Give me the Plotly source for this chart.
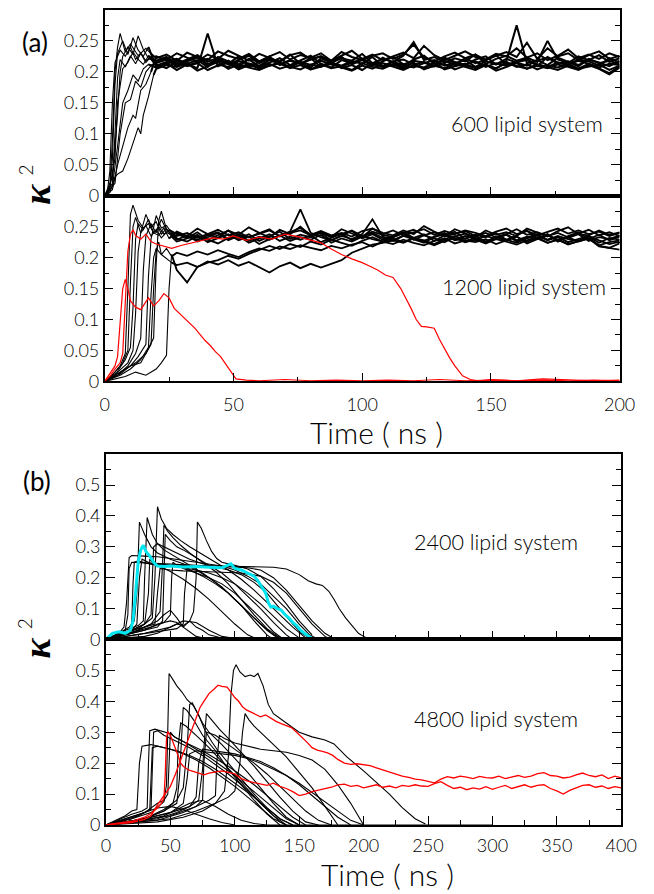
import plotly.graph_objects as go

W, H = 654, 894

# ---------------- Panel (a) upper : 600 lipid system  (kappa^2 x 1000) ----------------
A1_RISE_T = [
    [0, 1, 2, 3, 4, 6, 8, 10, 12, 14, 16, 18],
    [0, 2, 3, 4, 5, 7, 9, 11, 13, 15, 17],
    [0, 2, 3, 4, 5, 6, 8, 10, 13, 16, 18],
    [0, 3, 4, 5, 6, 8, 10, 12, 14, 16, 18],
    [0, 3, 5, 6, 7, 9, 11, 13, 15, 17],
    [0, 2, 4, 5, 7, 9, 11, 13, 15, 17],
    [0, 2, 4, 5, 7, 9, 11, 13, 14, 15, 17, 19],
    [0, 3, 5, 7, 9, 11, 12, 14, 16, 18],
    [0, 4, 6, 8, 10, 12, 14, 16, 18],
    [0, 3, 5, 7, 9, 11, 13, 15, 17],
]
A1_RISE_V = [
    [0, 5, 40, 150, 215, 235, 225, 240, 220, 230, 215, 225],
    [0, 10, 60, 180, 230, 250, 228, 255, 235, 225, 240],
    [0, 15, 90, 200, 240, 262, 232, 245, 226, 238, 229],
    [0, 20, 100, 190, 220, 208, 226, 213, 230, 218, 224],
    [0, 30, 130, 200, 225, 240, 228, 258, 236, 222],
    [0, 15, 60, 150, 205, 215, 232, 220, 212, 226],
    [0, 5, 30, 35, 40, 60, 85, 110, 100, 130, 160, 195],
    [0, 10, 50, 80, 110, 130, 125, 170, 180, 200],
    [0, 20, 100, 150, 155, 185, 175, 200, 210],
    [0, 15, 80, 150, 170, 195, 185, 205, 212],
]
A1_PLAT_T = list(range(20, 201, 4))
A1_PLAT_V = [
    [215,222,210,218,226,212,220,214,209,221,216,225,211,218,213,222,208,217,224,212,219,210,223,215,209,220,226,213,218,211,222,214,219,227,212,216,221,209,224,215,212,220,217,210,222,215],
    [208,214,203,212,206,262,209,215,204,211,207,213,205,210,216,204,212,206,209,203,214,208,205,212,207,215,204,210,206,213,208,203,211,206,214,209,205,212,207,203,210,205,213,206,198,209],
    [222,228,218,231,224,219,233,226,221,229,217,225,232,220,227,223,230,218,226,234,221,228,219,225,231,222,242,227,219,226,233,224,220,229,225,238,223,230,219,226,236,222,228,221,230,224],
    [212,206,217,209,214,203,211,218,207,213,205,210,215,208,204,212,209,216,206,211,203,214,208,212,205,210,207,215,204,209,213,206,211,205,216,208,212,204,210,207,213,205,209,212,203,210],
    [218,224,213,220,227,216,223,212,219,226,214,221,217,228,213,220,225,215,222,218,229,214,221,216,226,248,219,224,215,222,217,228,213,221,226,218,223,216,250,220,214,225,219,227,216,222],
    [210,216,221,213,219,208,224,217,212,220,209,215,222,211,218,226,213,207,219,214,221,210,217,224,212,218,215,209,223,216,211,220,225,212,217,275,214,219,211,223,216,209,221,214,218,212],
    [205,211,208,214,202,209,216,205,212,207,203,210,214,206,211,204,209,213,207,202,210,205,214,208,203,211,206,209,213,204,210,207,212,202,208,214,205,210,206,212,208,203,211,205,196,207],
    [225,219,230,223,217,228,221,234,226,218,229,223,216,227,231,220,225,218,232,224,219,226,230,221,228,244,223,217,225,231,222,228,219,226,232,224,247,221,238,225,230,219,227,233,221,226],
    [214,220,209,217,223,211,218,213,225,208,216,221,212,219,214,207,222,215,210,218,213,224,209,217,220,212,216,210,222,214,219,208,217,212,221,215,210,218,223,213,217,211,220,215,209,218],
    [207,213,218,210,215,221,212,208,217,214,210,219,213,207,216,211,218,212,209,215,220,213,208,216,211,207,214,219,210,215,212,217,208,214,210,216,219,212,208,215,211,218,213,207,213,211],
]

# ---------------- Panel (a) lower : 1200 lipid system ----------------
A2_RISE_T = [
    [0, 3, 6, 8, 9, 10, 11, 13, 15, 17, 19, 21, 23, 25],
    [0, 4, 7, 9, 10, 11, 12, 14, 16, 18, 20, 22, 24, 26],
    [0, 4, 8, 10, 11, 12, 13, 15, 17, 19, 21, 23, 25],
    [0, 5, 9, 11, 12, 13, 14, 16, 18, 20, 22, 24, 26],
    [0, 5, 9, 12, 14, 15, 16, 18, 20, 22, 24, 26],
    [0, 6, 10, 13, 16, 17, 18, 20, 22, 24, 26],
    [0, 6, 10, 14, 17, 18, 19, 20, 22, 24, 26],
    [0, 6, 10, 14, 18, 19, 20, 21, 22, 24, 26],
    [0, 8, 12, 16, 19, 20, 21, 22, 24, 26],
    [0, 8, 12, 16, 20, 22, 24, 25, 26],
]
A2_RISE_V = [
    [0, 10, 25, 45, 150, 270, 285, 260, 248, 255, 240, 250, 238, 245],
    [0, 15, 30, 50, 160, 250, 265, 240, 252, 235, 245, 232, 241, 236],
    [0, 10, 35, 55, 120, 230, 255, 245, 262, 240, 236, 248, 231],
    [0, 15, 30, 50, 110, 210, 240, 270, 250, 258, 238, 247, 234],
    [0, 10, 25, 45, 70, 180, 235, 255, 240, 262, 245, 238],
    [0, 12, 25, 40, 60, 170, 230, 268, 248, 252, 240],
    [0, 10, 20, 35, 55, 140, 200, 215, 205, 198, 192],
    [0, 15, 25, 30, 60, 150, 210, 225, 205, 215, 202],
    [0, 20, 30, 45, 70, 190, 260, 275, 246, 238],
    [0, 8, 15, 10, 20, 30, 42, 150, 205],
]
A2_PLAT_T = list(range(28, 201, 4))
A2_PLAT_V = [
    [238,232,241,229,236,244,231,238,227,235,242,230,237,233,240,228,236,243,231,238,229,235,241,232,238,227,236,242,230,237,233,240,229,236,244,231,238,226,235,241,230,237,228,234],
    [229,236,226,233,240,228,235,224,231,238,227,234,229,236,225,232,239,228,235,230,226,233,240,229,236,231,225,234,239,228,235,230,237,226,233,238,229,235,230,227,234,224,232,229],
    [242,235,247,238,232,244,237,249,240,233,245,238,250,236,242,234,246,239,233,247,240,236,244,238,251,242,235,246,239,233,244,237,241,235,247,240,234,243,249,238,236,244,237,241],
    [226,231,237,225,232,238,228,234,222,230,236,227,233,229,237,224,231,226,234,240,232,227,235,230,224,233,238,228,231,236,225,232,228,234,223,230,237,228,233,226,231,220,225,228],
    [235,240,232,238,245,236,241,233,239,246,234,240,244,236,241,233,238,244,235,242,237,233,240,245,236,241,234,239,243,235,240,233,238,246,237,241,235,240,233,239,245,236,241,235],
    [231,226,235,229,223,232,238,227,234,229,236,242,278,240,233,228,235,230,238,262,234,228,236,231,227,234,240,229,235,231,226,233,238,228,234,230,236,229,232,238,227,233,230,236],
    [188,192,185,194,189,196,187,193,184,176,186,192,183,190,184,190,196,208,215,221,224,228,224,231,226,220,227,232,225,229,223,230,226,221,228,233,224,229,222,226,231,218,215,213],
    [208,203,210,205,212,206,201,209,215,211,218,214,220,216,212,219,215,221,225,218,226,222,229,224,220,227,231,223,228,225,230,222,228,234,226,231,224,229,221,227,232,219,216,223],
    [240,234,229,236,241,230,237,233,239,244,235,241,248,237,243,236,240,234,243,247,238,244,236,241,246,237,243,238,244,240,235,242,247,238,243,236,241,247,239,244,238,242,235,240],
    [180,160,185,192,196,203,198,206,212,219,214,222,217,226,221,229,224,219,227,233,226,231,225,232,228,222,230,235,227,232,226,233,229,224,231,236,228,233,225,230,235,228,222,226],
]
A2_RED_T = [
    [0,2,4,6,7,8,9,10,11,12,14,16,18,20,23,26,30,34,38,42,46,50,55,60,65,70,75,80,84,88,
     92,96,100,103,106,109,112,115,117,119,121,123,125,128,130,132,134,136,139,142,145,150,160,170,180,190,200],
    [0,2,4,5,6,7,8,9,10,12,14,16,17,19,21,23,25,27,29,31,33,35,37,39,41,43,45,47,49,51,
     55,60,70,80,90,100,110,120,130,140,150,160,170,180,190,200],
]
A2_RED_V = [
    [0,8,20,30,45,120,210,238,245,236,230,238,226,222,218,215,220,224,227,232,230,235,228,233,230,238,234,229,224,214,
     205,198,192,186,180,172,168,150,135,118,100,89,88,86,68,52,38,25,9,3,1,3,1,4,2,1,2],
    [0,12,25,40,90,150,165,150,130,120,116,128,135,122,130,142,135,118,110,102,95,86,76,66,58,48,40,28,16,4,
     2,1,3,1,2,1,2,1,3,1,2,1,2,1,2,1],
]

# ---------------- Panel (b) upper : 2400 lipid system ----------------
B1_BLACK_T = [
    [0,10,14,16,18,20,30,40,50,60,70,80,90,100,110,120,130,140,150,158,165],
    [0,10,18,22,24,25,26,30,35,40,50,60,70,80,90,100,110,120,130,140],
    [0,15,25,29,30,31,32,36,40,45,55,65,75,85,95,105,115,125,135],
    [0,20,30,36,38,39,40,43,47,52,58,65,75,85,95,105,115,125,135,145,155],
    [0,30,40,50,55,60,65,68,70,71,74,78,82,86,90,100,110,120,130,140,150,160],
    [0,20,30,40,45,50,55,60,70,80,300],
    [0,10,20,24,26,28,35,45,60,80,100,115,130,140,150,157,163,168,173,177,181,186,192,196,200,205],
    [0,15,25,30,33,34,36,40,50,60,70,80,90,100,110,120,130,140,150],
    [0,12,18,20,21,22,25,30,40,50,60,70,80,90,100,110,118],
    [0,20,30,40,44,45,46,50,55,60,70,80,90,100,110,120,130,140,145],
    [0,25,35,42,44,45,48,52,58,65,75,85,95,105,115,125,135,140],
    [0,20,30,35,36,37,40,45,55,65,75,85,95,105,115,125,135,145,152,160],
    [0,30,40,50,55,60,65,70,75,80,90,100],
    [0,25,35,45,50,51,52,55,60,70,80,90,100,110,120,130,138],
    [0,30,45,55,60,61,63,68,75,85,95,105,115,125,130],
    [0,10,15,17,18,20,30,45,60,75,90,100,110,120,130,140,150,160,170,178],
    [0,20,30,38,40,42,50,60,75,90,105,120,130,140,150,160,170,175],
    [0,30,50,60,70,80,90,100,105,300],
]
B1_BLACK_V = [
    [0,20,40,120,265,272,270,268,262,256,250,245,238,225,205,180,140,100,50,15,0],
    [0,20,40,60,150,300,380,340,300,280,260,245,225,200,170,130,90,50,15,0],
    [0,30,45,60,200,330,395,340,310,290,265,240,215,185,150,110,70,30,0],
    [0,30,50,70,200,360,430,390,360,340,320,300,275,250,225,195,160,120,80,40,5],
    [0,10,20,40,50,45,60,90,200,380,360,320,285,262,250,240,228,205,165,115,60,15],
    [0,20,40,60,80,95,70,40,10,0,0],
    [0,10,30,50,200,260,245,242,240,238,236,235,234,228,210,190,180,175,156,130,100,70,40,20,10,0],
    [0,20,35,50,150,260,250,245,240,232,225,215,200,180,150,115,75,35,5],
    [0,15,30,50,180,250,255,248,240,220,195,165,130,90,50,15,0],
    [0,20,30,40,60,200,340,320,300,290,265,240,215,180,140,100,55,15,0],
    [0,30,50,90,250,370,350,330,305,280,250,220,180,130,80,35,5,0],
    [0,30,50,80,200,300,310,300,280,260,245,235,225,210,185,150,100,50,20,0],
    [0,30,50,60,55,40,60,40,30,15,5,0],
    [0,30,40,55,80,200,250,240,230,215,200,180,150,110,70,25,0],
    [0,20,30,35,50,150,230,220,205,180,150,110,60,15,0],
    [0,15,30,80,230,250,248,245,242,240,238,236,232,225,200,160,110,60,20,0],
    [0,30,40,50,150,230,225,222,220,218,215,205,185,150,100,50,10,0],
    [0,20,40,60,55,30,10,2,0,0],
]
B1_CYAN_T = [0,5,10,15,19,21,23,25,27,29,31,34,37,40,45,50,60,70,80,90,97,100,105,110,115,118,121,124,126,128,
             130,133,136,139,142,145,148,151,154,157,160,170,180,200]
B1_CYAN_V = [0,20,25,20,30,60,150,250,290,305,285,270,250,238,236,238,235,236,234,232,245,230,225,215,205,190,170,150,120,105,
             108,100,95,80,70,55,45,30,20,10,3,2,1,0]

# ---------------- Panel (b) lower : 4800 lipid system ----------------
B2_BLACK_T = [
    [0,15,20,24,26,28,35,45,55,65,75,85,95,105,115,125,135,145],
    [0,20,28,32,33,34,38,45,50,55,65,75,85,95,105,115,125,135,145,155],
    [0,25,30,35,36,37,40,45,55,65,75,85,95,105,115,125,135,140],
    [0,20,35,45,47,48,49,52,55,59,63,68,72,77,82,87,95,105,115,125,135,145],
    [0,30,40,45,48,49,50,53,60,70,80,90,100,110,120,130,140,150],
    [0,30,45,55,60,63,65,67,70,75,80,90,100,110,120,130,140,150],
    [0,30,45,55,57,59,60,63,68,75,85,95,105,115,125,135],
    [0,40,55,65,72,75,77,78,82,88,95,105,115,125,135,145,155,165],
    [0,40,60,75,85,92,95,97,99,101,104,108,112,115,118,122,126,130,140,150,160,170,177,187,200,210,220,230,240,248],
    [0,50,70,85,95,100,104,106,108,111,115,120,130,140,150,160,170,180],
    [0,50,70,80,85,86,88,92,100,110,120,130,140,150,160,170,180,190,200],
    [0,30,50,60,63,65,70,80,90,100,110,120,130,140,150,160,170,180,190,200],
    [0,30,50,65,70,72,75,80,90,100,110,120,130,140,150,160,170,180,190],
    [0,30,45,52,55,56,58,62,70,80,90,100,110,120,130,140],
    [0,20,30,40,50,60,70,80,90,100],
    [0,30,45,55,65,75,85,95,105,115,125,300],
    [0,40,60,70,75,76,78,85,95,105,115,125,135,145,155,165,175],
    [0,20,30,34,35,36,40,50,60,70,80,90,100,110,120,130,140],
]
B2_BLACK_V = [
    [0,30,45,50,200,255,260,250,240,225,205,180,150,120,90,55,20,0],
    [0,35,45,55,200,305,310,300,295,280,260,240,215,190,160,130,95,60,25,0],
    [0,30,40,50,180,300,305,290,270,250,225,195,165,130,90,50,10,0],
    [0,20,40,75,130,300,490,470,450,430,405,385,355,305,270,240,200,150,100,55,20,0],
    [0,40,70,80,100,220,300,285,270,245,220,190,160,125,90,55,20,0],
    [0,20,50,80,120,250,390,395,370,330,300,260,215,170,120,70,25,0],
    [0,20,45,70,150,300,380,370,340,290,240,180,130,80,35,0],
    [0,20,40,60,80,180,310,360,340,310,280,235,190,140,90,45,10,0],
    [0,10,25,45,70,110,220,420,500,518,495,480,485,480,490,450,390,360,330,300,285,275,262,220,175,137,100,56,20,3],
    [0,20,45,70,90,110,200,300,360,340,320,300,260,220,170,120,60,0],
    [0,30,60,80,95,200,290,280,265,255,245,240,235,225,210,180,130,70,0],
    [0,20,40,70,150,230,240,235,230,225,215,200,180,160,135,105,75,45,15,0],
    [0,20,40,60,90,200,245,242,238,230,218,205,185,160,130,95,60,25,0],
    [0,20,45,70,120,250,330,320,290,250,205,160,115,70,30,0],
    [0,20,40,55,60,50,35,20,8,0],
    [0,15,30,50,70,80,60,35,15,5,0,0],
    [0,15,40,60,80,200,300,290,260,230,200,165,125,85,45,15,0],
    [0,25,40,50,150,250,255,245,230,210,185,155,125,90,55,20,0],
]
B2_REDA_T = [0,10,20,30,35,40,43,45,46,47,48,50,53,56,58,60,64,68,72,76,80,85,90,95] + list(range(100, 401, 5))
B2_REDA_V = [0,5,12,25,38,55,70,85,160,280,302,290,260,225,200,190,178,172,168,162,168,172,175,170,
             165,150,142,137,132,128,135,125,118,108,95,100,108,112,118,122,130,132,125,128,
             120,124,130,122,126,120,128,125,130,126,125,134,140,128,118,122,114,120,116,124,
             115,122,128,118,125,130,122,128,130,118,110,100,112,120,128,130,122,126,118,124,120]
B2_REDB_T = [0,10,20,30,35,40,45,50,54,57,60,63,66,70,73,76,80,84,87,90,94,97,100,103,106,109,112,116,120,124,
             128,132,136,140,144,148,152,156,160,164,168,172,176,180,185,190,195] + list(range(200, 401, 5))
B2_REDB_V = [0,3,8,18,30,65,95,125,165,200,235,270,300,345,380,400,425,440,452,448,446,430,412,400,382,372,366,358,350,356,
             345,335,328,322,315,300,285,268,250,242,238,233,225,212,200,196,198,
             196,192,185,178,170,163,158,154,148,146,142,136,148,156,152,158,155,150,157,153,
             152,158,150,155,160,154,158,166,169,160,158,152,155,162,168,160,156,162,150,158,152]

# ---------------- text ----------------
FONT = "Lato, 'Open Sans', sans-serif"
A_YTICKS = [0, 0.05, 0.1, 0.15, 0.2, 0.25]
A_YTEXT = ["0", "0.05", "0.1", "0.15", "0.2", "0.25"]
B_YTICKS = [0, 0.1, 0.2, 0.3, 0.4, 0.5]
B_YTEXT = ["0", "0.1", "0.2", "0.3", "0.4", "0.5"]
A_XTICKS = [0, 50, 100, 150, 200]
B_XTICKS = [0, 50, 100, 150, 200, 250, 300, 350, 400]


def px(x):
    return x / W


def py(y):
    return 1 - y / H


fig = go.Figure()


def add(xs, ys, color, width, axis):
    fig.add_trace(go.Scatter(x=xs, y=[v / 1000 for v in ys], mode="lines",
                             line=dict(color=color, width=width),
                             xaxis="x" + axis, yaxis="y" + axis, hoverinfo="skip",
                             showlegend=False))


# panel (a): thin rising part, heavier fluctuating plateau (same data, two strokes)
for rt, rv, pv in zip(A1_RISE_T, A1_RISE_V, A1_PLAT_V):
    add(rt + A1_PLAT_T[:1], rv + pv[:1], "black", 1.1, "")
    add(rt[-1:] + A1_PLAT_T, rv[-1:] + pv, "black", 2.0, "")
for rt, rv, pv in zip(A2_RISE_T, A2_RISE_V, A2_PLAT_V):
    add(rt + A2_PLAT_T[:1], rv + pv[:1], "black", 1.1, "2")
    add(rt[-1:] + A2_PLAT_T, rv[-1:] + pv, "black", 1.8, "2")
for t, v in zip(A2_RED_T, A2_RED_V):
    add(t, v, "#ff0000", 1.2, "2")
for t, v in zip(B1_BLACK_T, B1_BLACK_V):
    add(t, v, "black", 1.1, "3")
add(B1_CYAN_T, B1_CYAN_V, "#00e5f0", 3, "3")
for t, v in zip(B2_BLACK_T, B2_BLACK_V):
    add(t, v, "black", 1.1, "4")
add(B2_REDA_T, B2_REDA_V, "#ff0000", 1.3, "4")
add(B2_REDB_T, B2_REDB_V, "#ff0000", 1.3, "4")

tickfont = dict(family=FONT, size=18, color="#000000", weight=300)


def xaxis(dom, rng, ticks, minor, labels, anchor, standoff):
    return dict(domain=dom, range=rng, anchor=anchor, tickvals=ticks, showticklabels=labels,
                ticks="inside", ticklen=9, tickwidth=1.2, tickcolor="black",
                minor=dict(tickvals=minor, ticks="inside", ticklen=5, tickwidth=1.2, tickcolor="black"),
                showline=True, linecolor="black", linewidth=1.6, mirror=True,
                showgrid=False, zeroline=False, tickfont=tickfont, ticklabelstandoff=standoff)


def yaxis(dom, rng, ticks, text, minor, anchor):
    return dict(domain=dom, range=rng, anchor=anchor, tickvals=ticks, ticktext=text,
                ticks="inside", ticklen=9, tickwidth=1.2, tickcolor="black",
                minor=dict(tickvals=minor, ticks="inside", ticklen=5, tickwidth=1.2, tickcolor="black"),
                showline=True, linecolor="black", linewidth=1.6, mirror="ticks",
                showgrid=False, zeroline=False, tickfont=tickfont)


AX = [px(103), px(635)]
BX = [px(104.3), px(636.7)]
A_MINOR_Y = [0.025, 0.075, 0.125, 0.175, 0.225, 0.275]
B_MINOR_Y = [0.05, 0.15, 0.25, 0.35, 0.45, 0.55]
A_MINOR_X = [25, 75, 125, 175]
B_MINOR_X = [25, 75, 125, 175, 225, 275, 325, 375]

fig.update_layout(
    width=W, height=H, margin=dict(l=0, r=0, t=0, b=0),
    paper_bgcolor="white", plot_bgcolor="white", showlegend=False,
    xaxis=xaxis(AX, [0, 200], A_XTICKS, A_MINOR_X, False, "y", 0),
    yaxis=yaxis([py(198), py(10)], [0, 0.3], A_YTICKS, A_YTEXT, A_MINOR_Y, "x"),
    xaxis2=xaxis(AX, [0, 200], A_XTICKS, A_MINOR_X, True, "y2", 6),
    yaxis2=yaxis([py(385.7), py(198)], [0, 0.3], A_YTICKS, A_YTEXT, A_MINOR_Y, "x2"),
    xaxis3=xaxis(BX, [0, 400], B_XTICKS, B_MINOR_X, False, "y3", 0),
    yaxis3=yaxis([py(646.7), py(459.3)], [0, 0.6], B_YTICKS, B_YTEXT, B_MINOR_Y, "x3"),
    xaxis4=xaxis(BX, [0, 400], B_XTICKS, B_MINOR_X, True, "y4", 4),
    yaxis4=yaxis([py(834.3), py(646.7)], [0, 0.6], B_YTICKS, B_YTEXT, B_MINOR_Y, "x4"),
)

ann_font = dict(family=FONT, size=21.5, color="#000000", weight=300)
big_font = dict(family=FONT, size=30, color="#000000", weight=300)
lab_font = dict(family=FONT, size=26, color="#000000")
kap_font = dict(family="'Liberation Serif', 'DejaVu Serif', serif", size=38, color="#000000")
sup_font = dict(family=FONT, size=19, color="#000000", weight=300)

anns = [
    dict(text="(a)", x=px(31), y=py(42), font=lab_font),
    dict(text="(b)", x=px(33), y=py(486), font=lab_font),
    dict(text="600 lipid system", x=px(539), y=py(125), font=ann_font),
    dict(text="1200 lipid system", x=px(536), y=py(290), font=ann_font),
    dict(text="2400 lipid system", x=px(507), y=py(548), font=ann_font),
    dict(text="4800 lipid system", x=px(507), y=py(727), font=ann_font),
    dict(text="Time ( ns )", x=px(384), y=py(437), font=big_font),
    dict(text="Time ( ns )", x=px(395), y=py(884), font=big_font),
    dict(text="<b><i>κ</i></b>", x=px(33), y=py(196), textangle=-90, font=kap_font),
    dict(text="2", x=px(21), y=py(172), textangle=-90, font=sup_font),
    dict(text="<b><i>κ</i></b>", x=px(33), y=py(655), textangle=-90, font=kap_font),
    dict(text="2", x=px(21), y=py(631), textangle=-90, font=sup_font),
]
for a in anns:
    a.update(xref="paper", yref="paper", xanchor="center", yanchor="middle", showarrow=False)
fig.update_layout(annotations=anns)

fig.write_html("out.html")
